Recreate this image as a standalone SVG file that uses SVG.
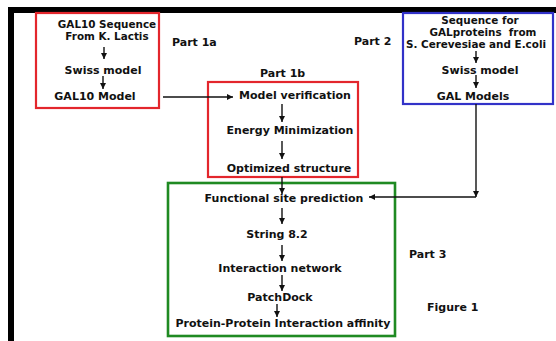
<svg xmlns="http://www.w3.org/2000/svg" width="556" height="341" viewBox="0 0 556 341">
<defs>
<style>
text{font-family:"DejaVu Sans","Liberation Sans",sans-serif;font-weight:bold;font-size:11px;fill:#111;}
.c{text-anchor:middle;}
.s{font-size:10.4px;}
.box{fill:none;stroke-width:2.2;}
.red{stroke:#e3262c;}
.blue{stroke:#3232c8;}
.green{stroke:#1f8a22;stroke-width:2.6;}
.ln{fill:none;stroke:#111;stroke-width:1.4;}
</style>
<marker id="ah" markerUnits="userSpaceOnUse" markerWidth="8" markerHeight="8" refX="6" refY="3" orient="auto">
<path d="M0,0 L6,3 L0,6 z" fill="#111"/>
</marker>
</defs>
<rect x="0" y="0" width="556" height="341" fill="#fff"/>
<rect x="8" y="7" width="548" height="6" fill="#000"/>
<rect x="8" y="7" width="6" height="334" fill="#000"/>

<g id="part1a">
<rect class="box red" x="36" y="13" width="123" height="95"/>
<text class="c s" x="107" y="27.5">GAL10 Sequence</text>
<text class="c s" x="107" y="40">From K. Lactis</text>
<text class="c" x="103" y="74">Swiss model</text>
<text class="c" x="95" y="100">GAL10 Model</text>
</g>
<g id="part1b">
<rect class="box red" x="208" y="82" width="150" height="95"/>
<text class="c" x="295" y="99">Model verification</text>
<text class="c" x="290" y="134">Energy Minimization</text>
<text class="c" x="289" y="172">Optimized structure</text>
</g>
<g id="part2">
<rect class="box blue" x="403" y="13" width="150" height="91"/>
<text class="c s" x="480" y="23.5">Sequence for</text>
<text class="c s" x="483" y="35.5" xml:space="preserve">GALproteins  from</text>
<text class="c s" x="476" y="48">S. Cerevesiae and E.coli</text>
<text class="c" x="480" y="74">Swiss model</text>
<text class="c" x="473" y="100">GAL Models</text>
</g>
<g id="part3">
<rect class="box green" x="168" y="183" width="227" height="153"/>
<text class="c" x="284" y="202">Functional site prediction</text>
<text class="c" x="277" y="238">String 8.2</text>
<text class="c" x="280" y="272">Interaction network</text>
<text class="c" x="280" y="301">PatchDock</text>
<text class="c" x="283" y="327">Protein-Protein Interaction affinity</text>
</g>
<g id="labels">
<text x="172" y="46">Part 1a</text>
<text x="260" y="77">Part 1b</text>
<text x="354" y="45">Part 2</text>
<text x="409" y="258">Part 3</text>
<text x="427" y="311">Figure 1</text>
</g>

<g id="connectors">
<line class="ln" x1="104" y1="47" x2="104" y2="59" marker-end="url(#ah)"/>
<line class="ln" x1="103" y1="76" x2="103" y2="89" marker-end="url(#ah)"/>
<line class="ln" x1="476" y1="51" x2="476" y2="63" marker-end="url(#ah)"/>
<line class="ln" x1="476" y1="75" x2="476" y2="88" marker-end="url(#ah)"/>
<line class="ln" x1="163" y1="97" x2="233" y2="97" marker-end="url(#ah)"/>
<line class="ln" x1="282" y1="104" x2="282" y2="122" marker-end="url(#ah)"/>
<line class="ln" x1="282" y1="141" x2="282" y2="159" marker-end="url(#ah)"/>
<line class="ln" x1="282" y1="177" x2="282" y2="194" marker-end="url(#ah)"/>
<line class="ln" x1="476" y1="104" x2="476" y2="197" marker-end="url(#ah)"/>
<polyline class="ln" points="476,197 369,197" marker-end="url(#ah)"/>
<line class="ln" x1="282" y1="208" x2="282" y2="224" marker-end="url(#ah)"/>
<line class="ln" x1="282" y1="245" x2="282" y2="261" marker-end="url(#ah)"/>
<line class="ln" x1="282" y1="275" x2="282" y2="291" marker-end="url(#ah)"/>
<line class="ln" x1="277" y1="304" x2="277" y2="317" marker-end="url(#ah)"/>
</g>
</svg>
